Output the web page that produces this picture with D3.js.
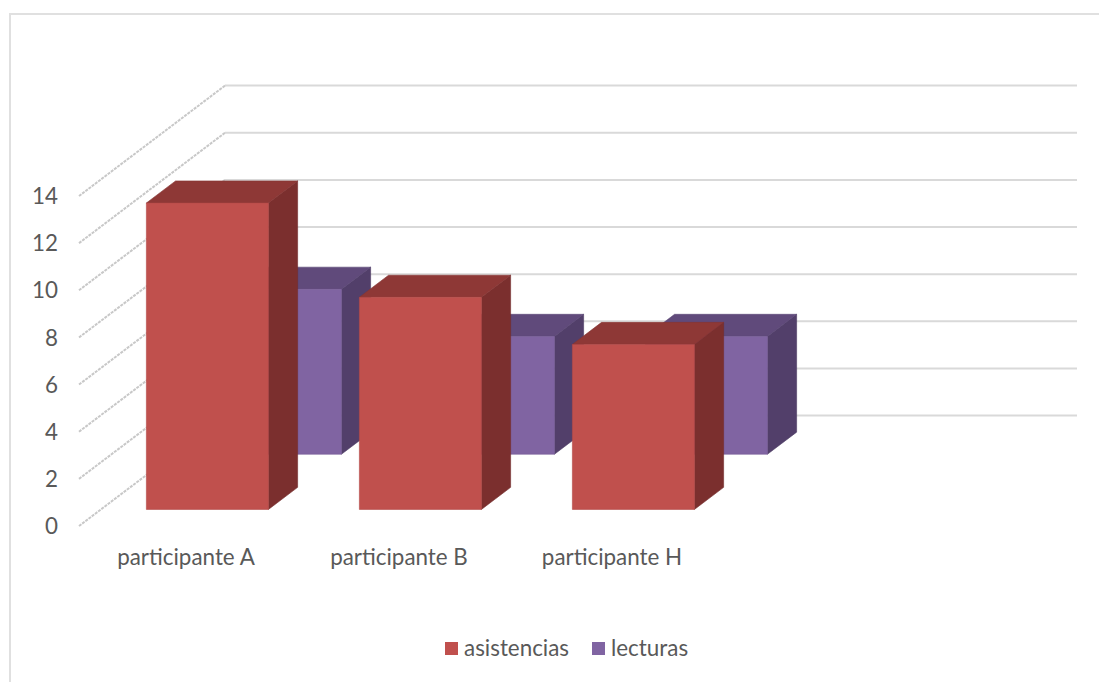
<!DOCTYPE html>
<html>
  <head>
    <meta charset="utf-8" />
    <title>asistencias y lecturas</title>
    <style>
      body {
        margin: 0;
        background: #fff;
      }

      svg {
        display: block;
      }

      text {
        font-family: Lato, "Open Sans", sans-serif;
        font-size: 22.4px;
        fill: #595959;
      }

      .grid {
        fill: none;
        stroke: #d9d9d9;
        stroke-width: 2px;
      }

      .wall {
        fill: none;
        stroke: #c8c8c8;
        stroke-width: 2px;
        stroke-dasharray: 3 1;
      }

      .frame {
        fill: none;
        stroke: #e0e0e0;
        stroke-width: 2px;
      }

      .face {
        stroke-width: 0.6px;
      }
    </style>
  </head>
  <body>
    <svg width="1099" height="682"></svg>

    <script src="https://d3js.org/d3.v7.min.js"></script>
    <script>
      // Chart data
      const categories = ["participante A", "participante B", "participante H", ""];
      const seriesNames = ["asistencias", "lecturas"];
      const asistencias = [13, 9, 7, null];
      const lecturas = [7, 5, 5, null];
      const yTicks = [0, 2, 4, 6, 8, 10, 12, 14];

      const seriesValues = [asistencias, lecturas];
      const frontColors = ["#c0504d", "#8064a2"];
      const topColors = ["#8e3836", "#604a7b"];
      const sideColors = ["#7b2f2e", "#523f6a"];

      const svg = d3.select("svg");

      // Scales for the front plane of the 3D box
      const xStart = 79;
      const xEnd = 931;
      const x = d3
        .scaleBand()
        .domain(categories)
        .range([xStart, xEnd])
        .paddingInner(0.427)
        .paddingOuter(0.2135);
      const xAxisScale = d3.scaleBand().domain(categories).range([xStart, xEnd]);
      const y = d3.scaleLinear().domain([0, 14]).range([526, 196]);
      // depth goes from 0 (front) to 1 (back wall)
      const depth = d3
        .scaleBand()
        .domain(seriesNames)
        .range([0, 1])
        .paddingInner(0.6)
        .paddingOuter(0.3);

      const depthX = 146;
      const depthY = 110.4;

      function project(px, value, d) {
        return [px + d * depthX, y(value) - d * depthY];
      }

      // Outer frame, runs off the picture on the right and bottom
      svg.append("path").attr("class", "frame").attr("d", "M10,682V14H1099");

      // Gridlines: wall diagonal plus back wall line
      const grid = svg.append("g");
      grid
        .selectAll(".wall")
        .data(yTicks)
        .join("path")
        .attr("class", "wall")
        .attr("d", (v) => d3.line()([project(xStart, v, 0), project(xStart, v, 1)]));
      grid
        .selectAll(".grid")
        .data(yTicks)
        .join("path")
        .attr("class", "grid")
        .attr("d", (v) => d3.line()([project(xStart, v, 1), project(xEnd, v, 1)]));

      // Axes
      const yAxis = svg
        .append("g")
        .attr("transform", "translate(78,0.5)")
        .call(d3.axisLeft(y).tickValues(yTicks).tickSize(0).tickPadding(20));
      yAxis.select(".domain").remove();

      const xAxis = svg
        .append("g")
        .attr("transform", "translate(0.5,541.5)")
        .call(d3.axisBottom(xAxisScale).tickSize(0).tickPadding(8));
      xAxis.select(".domain").remove();

      svg
        .selectAll(".tick text")
        .style("font-family", 'Lato, "Open Sans", sans-serif')
        .style("font-size", "22.4px")
        .style("fill", "#595959");

      // Bars, back series first so the front series covers it
      const bars = svg.append("g");
      d3.range(seriesNames.length)
        .reverse()
        .forEach((s) => {
          const d0 = depth(seriesNames[s]);
          const d1 = d0 + depth.bandwidth();
          categories.forEach((cat, i) => {
            const v = seriesValues[s][i];
            if (v == null) return;
            const xl = x(cat);
            const xr = xl + x.bandwidth();

            const faces = [
              {
                color: sideColors[s],
                pts: [
                  project(xr, 0, d0),
                  project(xr, 0, d1),
                  project(xr, v, d1),
                  project(xr, v, d0),
                ],
              },
              {
                color: topColors[s],
                pts: [
                  project(xl, v, d0),
                  project(xl, v, d1),
                  project(xr, v, d1),
                  project(xr, v, d0),
                ],
              },
              {
                color: frontColors[s],
                pts: [
                  project(xl, 0, d0),
                  project(xl, v, d0),
                  project(xr, v, d0),
                  project(xr, 0, d0),
                ],
              },
            ];

            bars
              .append("g")
              .selectAll("polygon")
              .data(faces)
              .join("polygon")
              .attr("class", "face")
              .attr("points", (f) => f.pts.join(" "))
              .attr("fill", (f) => f.color)
              .attr("stroke", (f) => d3.color(f.color).darker(0.2));
          });
        });

      // Legend
      const legendItems = [
        { x: 445, textX: 464 },
        { x: 592, textX: 611 },
      ];
      const legend = svg.append("g").selectAll("g").data(seriesNames).join("g");

      legend
        .append("rect")
        .attr("x", (d, i) => legendItems[i].x)
        .attr("y", 642)
        .attr("width", 13)
        .attr("height", 13)
        .attr("fill", (d, i) => frontColors[i]);

      legend
        .append("text")
        .attr("x", (d, i) => legendItems[i].textX)
        .attr("y", 656)
        .text((d) => d);
    </script>
  </body>
</html>
